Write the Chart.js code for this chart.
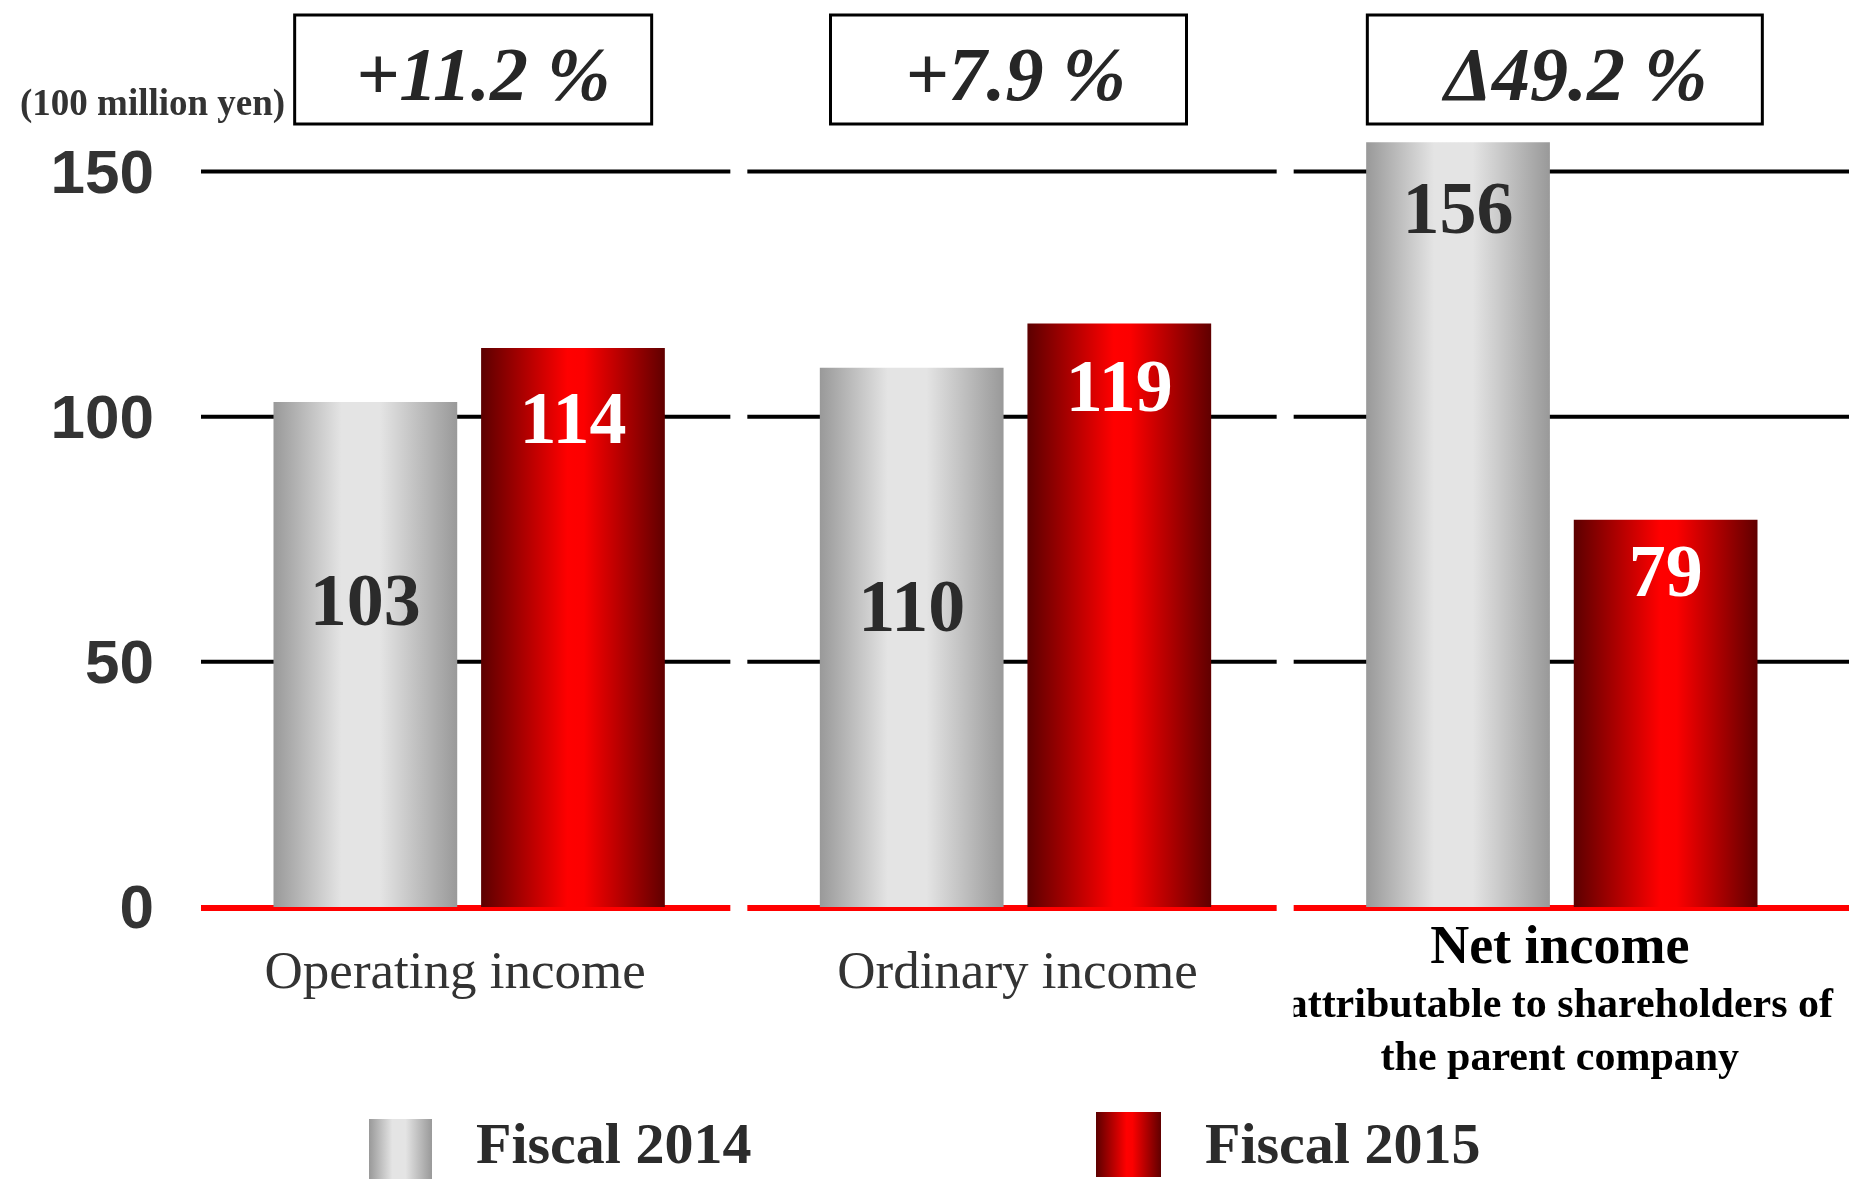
<!DOCTYPE html>
<html>
<head>
<meta charset="utf-8">
<script src="https://cdn.jsdelivr.net/npm/chart.js@4.4.0/dist/chart.umd.min.js"></script>
<style>
    html, body { margin: 0; padding: 0; background: #fff; }
    #wrap { width: 1849px; height: 1179px; position: relative; }
</style>
</head>
<body>
<div id="wrap"><canvas id="incomeChart"></canvas></div>
<script>
// values in 100 million yen
const categories = ['Operating income', 'Ordinary income', 'Net income'];
const subLabels = ['', '', 'attributable to shareholders of|the parent company'];
const fiscal2014 = [103, 110, 156];
const fiscal2015 = [114, 119, 79];
const changeLabels = ['+11.2 %', '+7.9 %', '\u0394' + '49.2 %'];
const yTicks = [0, 50, 100, 150];
const seriesNames = ['Fiscal 2014', 'Fiscal 2015'];

// cosmetic placement tweaks (pixels)
const labelOffsets = [[204, 244, 72], [76, 68, 57]];
const boxWidths = [357, 356, 395];
const boxShift = [4, -7, 3];
const changeShift = [14, 0, 14];
const catShift = [-14, 2, -2];

const SERIF = '"Liberation Serif", "Times New Roman", serif';
const SANS = '"Liberation Sans", Arial, sans-serif';

function grayGradient(ctx, x0, x1) {
    const g = ctx.createLinearGradient(x0, 0, x1, 0);
    g.addColorStop(0, '#999999');
    g.addColorStop(0.37, '#e4e4e4');
    g.addColorStop(0.58, '#e4e4e4');
    g.addColorStop(1, '#999999');
    return g;
}

function redGradient(ctx, x0, x1) {
    const g = ctx.createLinearGradient(x0, 0, x1, 0);
    g.addColorStop(0, '#5c0000');
    g.addColorStop(0.47, '#ff0000');
    g.addColorStop(0.56, '#fc0000');
    g.addColorStop(1, '#600000');
    return g;
}

// each category has its own gridline segment, with a small gap between them
function segments(chart) {
    const area = chart.chartArea;
    const w = (area.right - area.left) / categories.length;
    return categories.map((c, i) => {
        const start = area.left + i * w + 5;
        const end = i === categories.length - 1 ? chart.width : area.left + (i + 1) * w - 12;
        return [start, end];
    });
}

const gridPlugin = {
    id: 'segGrid',
    beforeDatasetsDraw(chart) {
        const ctx = chart.ctx;
        const y = chart.scales.y;
        ctx.save();
        segments(chart).forEach(([s, e]) => {
            yTicks.forEach(v => {
                const py = y.getPixelForValue(v);
                ctx.beginPath();
                if (v === 0) {
                    ctx.strokeStyle = '#ff0000';
                    ctx.lineWidth = 6;
                    ctx.moveTo(s, py + 1);
                    ctx.lineTo(e, py + 1);
                } else {
                    ctx.strokeStyle = '#000000';
                    ctx.lineWidth = 4;
                    ctx.moveTo(s, py);
                    ctx.lineTo(e, py);
                }
                ctx.stroke();
            });
        });
        ctx.restore();

        // give every bar its own horizontal shading
        chart.data.datasets.forEach((ds, di) => {
            chart.getDatasetMeta(di).data.forEach(el => {
                const x0 = el.x - el.width / 2;
                const x1 = el.x + el.width / 2;
                const g = di === 0 ? grayGradient(ctx, x0, x1) : redGradient(ctx, x0, x1);
                el.options = Object.assign({}, el.options, { backgroundColor: g });
            });
        });
    }
};

const labelPlugin = {
    id: 'valueLabels',
    afterDatasetsDraw(chart) {
        const ctx = chart.ctx;
        ctx.save();
        ctx.font = 'bold 74px ' + SERIF;
        ctx.textAlign = 'center';
        ctx.textBaseline = 'middle';
        chart.data.datasets.forEach((ds, di) => {
            chart.getDatasetMeta(di).data.forEach((el, i) => {
                ctx.fillStyle = di === 0 ? '#2b2b2b' : '#ffffff';
                ctx.fillText(String(ds.data[i]), el.x, el.y + labelOffsets[di][i]);
            });
        });
        ctx.restore();
    }
};

const decorPlugin = {
    id: 'decor',
    afterDraw(chart) {
        const ctx = chart.ctx;
        const area = chart.chartArea;
        const w = (area.right - area.left) / categories.length;
        const segs = segments(chart);
        ctx.save();

        // unit
        ctx.fillStyle = '#333333';
        ctx.font = 'bold 37px ' + SERIF;
        ctx.textAlign = 'left';
        ctx.textBaseline = 'alphabetic';
        ctx.fillText('(100 million yen)', 20, 115);

        // change boxes
        categories.forEach((c, i) => {
            const cx = area.left + (i + 0.5) * w;
            const bw = boxWidths[i];
            ctx.strokeStyle = '#000';
            ctx.lineWidth = 3;
            ctx.strokeRect(cx - bw / 2 + boxShift[i], 15, bw, 109);
            ctx.fillStyle = '#262626';
            ctx.font = 'italic bold 76px ' + SERIF;
            ctx.textAlign = 'center';
            ctx.fillText(changeLabels[i], cx + changeShift[i], 100);
        });

        // category labels
        categories.forEach((c, i) => {
            const cx = area.left + (i + 0.5) * w + catShift[i];
            ctx.textAlign = 'center';
            if (!subLabels[i]) {
                ctx.fillStyle = '#333333';
                ctx.font = '53px ' + SERIF;
                ctx.fillText(c, cx, 988);
            } else {
                ctx.save();
                ctx.beginPath();
                ctx.rect(segs[i][0], 910, chart.width - segs[i][0], 200);
                ctx.clip();
                ctx.fillStyle = '#000000';
                ctx.font = 'bold 54px ' + SERIF;
                ctx.fillText(c, cx, 963);
                ctx.font = 'bold 42px ' + SERIF;
                subLabels[i].split('|').forEach((line, k) => {
                    ctx.fillText(line, cx, 1017 + k * 53);
                });
                ctx.restore();
            }
        });

        // legend
        ctx.fillStyle = grayGradient(ctx, 369, 432);
        ctx.fillRect(369, 1119, 63, 60);
        ctx.fillStyle = redGradient(ctx, 1096, 1161);
        ctx.fillRect(1096, 1112, 65, 65);
        ctx.fillStyle = '#2b2b2b';
        ctx.font = 'bold 58px ' + SERIF;
        ctx.textAlign = 'left';
        ctx.fillText(seriesNames[0], 476, 1163);
        ctx.fillText(seriesNames[1], 1205, 1163);
        ctx.restore();
    }
};

const ctx = document.getElementById('incomeChart').getContext('2d');
const incomeChart = new Chart(ctx, {
    type: 'bar',
    data: {
        labels: categories,
        datasets: [
            { label: seriesNames[0], data: fiscal2014, backgroundColor: '#cccccc' },
            { label: seriesNames[1], data: fiscal2015, backgroundColor: '#dd0000' }
        ]
    },
    options: {
        responsive: true,
        maintainAspectRatio: false,
        animation: false,
        layout: { padding: { left: 0, right: 14, top: 98, bottom: 272 } },
        datasets: {
            bar: { categoryPercentage: 0.76, barPercentage: 0.885 }
        },
        scales: {
            x: { display: false },
            y: {
                min: 0,
                max: 165,
                afterBuildTicks: scale => {
                    scale.ticks = yTicks.map(v => ({ value: v }));
                },
                afterFit: scale => { scale.width = 196; },
                grid: { display: false, drawTicks: false },
                border: { display: false },
                ticks: {
                    padding: 42,
                    labelOffset: 4,
                    color: '#333333',
                    font: { family: SANS, size: 62, weight: 'bold' }
                }
            }
        },
        plugins: {
            legend: { display: false },
            tooltip: { enabled: false }
        }
    },
    plugins: [gridPlugin, labelPlugin, decorPlugin]
});
</script>
</body>
</html>
